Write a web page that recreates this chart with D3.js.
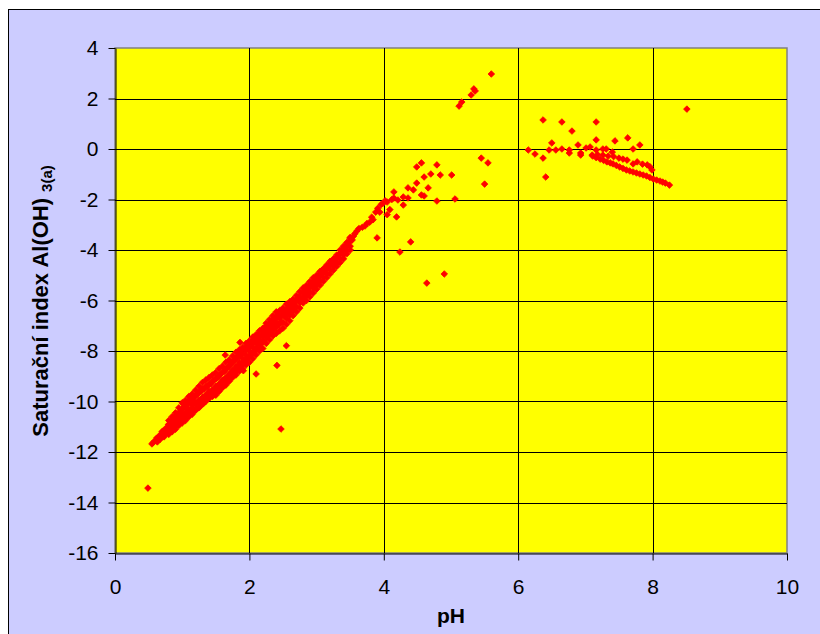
<!DOCTYPE html>
<html lang="cs">
<head>
<meta charset="utf-8">
<title>Saturační index</title>
<script src="https://cdn.jsdelivr.net/npm/d3@7"></script>
<style>
  body { margin: 0; background: #fff; }
  svg { display: block; font-family: Arial, "Liberation Sans", sans-serif; }
</style>
</head>
<body>
<svg width="820" height="634"></svg>
<script>
// pH vs saturation index
var xTicks = [0, 2, 4, 6, 8, 10];
var yTicks = [-16, -14, -12, -10, -8, -6, -4, -2, 0, 2, 4];

// main band (pH, SI)
var bandPts = [
  [0.55,-11.68],[0.57,-11.62],[0.6,-11.55],[0.62,-11.45],[0.63,-11.6],[0.65,-11.4],[0.67,-11.5],[0.68,-11.3],
  [0.7,-11.35],[0.7,-11.2],[0.72,-11.15],[0.73,-11.4],[0.75,-11.1],[0.76,-11.25],[0.78,-11.0],[0.79,-11.2],
  [0.8,-10.9],[0.82,-11.1],[0.83,-10.8],[0.85,-10.95],[0.86,-10.7],[0.88,-10.85],[0.89,-10.6],[0.9,-11.0],
  [0.91,-10.75],[0.93,-10.5],[0.94,-10.9],[0.95,-10.65],[0.97,-10.4],[0.98,-10.8],[1.0,-10.55],[1.0,-10.3],
  [1.02,-10.1],[1.03,-10.7],[1.05,-10.45],[1.06,-10.2],[1.08,-10.6],[1.09,-10.0],[1.1,-10.35],[1.12,-10.5],
  [1.13,-9.9],[1.15,-10.15],[1.16,-10.4],[1.18,-9.8],[1.2,-10.05],[1.21,-10.3],[1.23,-9.7],[1.25,-9.95],
  [1.26,-10.2],[1.28,-9.6],[1.3,-9.85],[1.31,-10.1],[1.33,-9.5],[1.35,-9.75],[1.36,-9.95],[1.38,-9.4],
  [1.4,-9.65],[1.41,-9.85],[1.43,-9.3],[1.45,-9.55],[1.46,-9.75],[1.48,-9.15],[1.5,-9.4],[1.51,-9.65],
  [1.53,-9.05],[1.55,-9.3],[1.56,-9.5],[1.58,-8.9],[1.6,-9.15],[1.61,-9.4],[1.63,-8.8],[1.65,-9.05],
  [1.66,-9.25],[1.68,-8.65],[1.7,-8.9],[1.71,-9.1],[1.73,-8.5],[1.75,-8.75],[1.76,-8.95],[1.78,-8.35],
  [1.8,-8.6],[1.81,-8.8],[1.83,-8.2],[1.85,-8.45],[1.86,-8.65],[1.88,-8.05],[1.9,-8.3],[1.91,-8.5],
  [1.93,-7.9],[1.95,-8.15],[1.96,-8.35],[1.98,-7.8],[2.0,-8.0],[2.01,-8.2],[2.03,-7.65],[2.05,-7.85],
  [2.06,-8.05],[2.08,-7.5],[2.1,-7.7],[2.11,-7.9],[2.13,-7.35],[2.15,-7.55],[2.16,-7.75],[2.18,-7.2],
  [2.2,-7.4],[2.21,-7.6],[2.23,-7.05],[2.25,-7.25],[2.26,-7.45],[2.28,-6.95],[2.3,-7.1],[2.31,-7.3],
  [2.33,-6.8],[2.35,-6.95],[2.36,-7.15],[2.38,-6.7],[2.4,-6.85],[2.41,-7.0],[2.43,-6.55],[2.45,-6.7],
  [2.47,-6.85],[2.5,-6.45],[2.52,-6.6],[2.55,-6.35],[2.57,-6.5],[2.6,-6.25],[2.62,-6.4],[2.65,-6.1],
  [2.67,-6.25],[2.7,-6.0],[2.72,-5.9],[2.75,-5.85],[2.77,-6.0],[2.8,-5.7],[2.83,-5.6],[2.85,-5.75],
  [2.88,-5.5],[2.9,-5.4],[2.93,-5.3],[2.95,-5.45],[2.98,-5.2],[3.0,-5.1],[3.03,-5.2],[3.05,-4.95],
  [3.08,-4.8],[3.1,-4.9],[3.13,-4.7],[3.17,-4.65],[3.2,-4.55],[3.23,-4.5],[3.27,-4.4],[3.3,-4.3],
  [3.33,-4.2],[3.35,-4.15],[3.38,-4.05],[3.4,-3.95],[3.43,-3.9],[3.45,-3.8],[3.48,-3.7],[3.5,-3.55],
  [3.53,-3.6],[3.55,-3.45],[3.57,-3.35],[3.6,-3.25],[3.63,-3.15],[3.68,-3.1],[3.72,-3.05],[3.75,-2.95],
  [3.79,-2.9],[3.82,-2.7],[3.84,-2.8],[3.88,-2.5],[3.91,-2.35],[3.94,-2.5],[3.96,-2.2],[3.99,-2.15],
  [4.02,-2.05],[4.05,-2.1],[4.05,-2.6],[4.09,-2.4],[4.12,-2.0]
];

// upper and lower edge of the band
var bandTopPts = [
  [0.8,-10.75],[0.85,-10.6],[0.9,-10.45],[0.95,-10.25],[1.0,-10.05],[1.05,-9.95],[1.1,-9.8],[1.15,-9.7],
  [1.2,-9.55],[1.25,-9.4],[1.3,-9.25],[1.35,-9.15],[1.4,-9.05],[1.45,-8.95],[1.5,-8.85],[1.55,-8.7],
  [1.6,-8.6],[1.65,-8.45],[1.7,-8.35],[1.75,-8.2],[1.8,-8.05],[1.85,-7.95],[1.9,-7.85],[1.95,-7.7],
  [2.0,-7.6],[2.05,-7.45],[2.1,-7.35],[2.15,-7.2],[2.2,-7.1],[2.25,-6.9],[2.3,-6.75],[2.35,-6.6],
  [2.4,-6.45],[2.45,-6.4],[2.5,-6.3],[2.55,-6.15],[2.6,-6.05],[2.65,-5.95],[2.7,-5.8],[2.75,-5.65],
  [2.8,-5.5],[2.85,-5.4],[2.9,-5.25],[2.95,-5.1],[3.0,-5.0],[3.05,-4.85],[3.1,-4.75],[3.15,-4.6],
  [3.2,-4.45],[3.25,-4.35],[3.3,-4.2],[3.35,-4.0],[3.4,-3.85],[3.45,-3.7],[3.5,-3.5]
];
var bandLowPts = [
  [0.8,-11.3],[0.85,-11.2],[0.9,-11.1],[0.95,-10.95],[1.0,-10.85],[1.05,-10.75],[1.1,-10.6],[1.15,-10.5],
  [1.2,-10.35],[1.25,-10.25],[1.3,-10.1],[1.35,-10.0],[1.4,-9.85],[1.45,-9.8],[1.5,-9.75],[1.55,-9.6],
  [1.6,-9.45],[1.65,-9.35],[1.7,-9.2],[1.75,-9.05],[1.8,-8.95],[1.85,-8.8],[1.9,-8.7],[1.95,-8.55],
  [2.0,-8.45],[2.05,-8.3],[2.1,-8.15],[2.15,-8.0],[2.2,-7.9],[2.25,-7.7],[2.3,-7.55],[2.35,-7.4],
  [2.4,-7.3],[2.45,-7.2],[2.5,-7.1],[2.55,-6.95],[2.6,-6.8],[2.65,-6.6],[2.7,-6.45],[2.75,-6.3],
  [2.8,-6.1],[2.85,-6.0],[2.9,-5.85],[2.95,-5.7],[3.0,-5.55],[3.05,-5.4],[3.1,-5.25],[3.15,-5.1],
  [3.2,-4.95],[3.25,-4.8],[3.3,-4.65],[3.35,-4.5],[3.4,-4.35],[3.45,-4.15],[3.5,-4.0]
];

// inside of the band, where the markers run together
var bandInPts = [
  [0.8,-10.92],[0.8,-11.13],[0.85,-10.78],[0.85,-11.02],[0.9,-10.65],[0.9,-10.9],[0.95,-10.46],[0.95,-10.74],
  [1.0,-10.3],[1.0,-10.6],[1.05,-10.2],[1.05,-10.5],[1.1,-10.05],[1.1,-10.35],[1.15,-9.95],[1.15,-10.25],
  [1.2,-9.8],[1.2,-10.1],[1.25,-9.65],[1.25,-10.0],[1.3,-9.5],[1.3,-9.85],[1.35,-9.4],[1.35,-9.75],
  [1.4,-9.3],[1.4,-9.6],[1.45,-9.2],[1.45,-9.55],[1.5,-9.1],[1.5,-9.5],[1.55,-8.97],[1.55,-9.33],
  [1.6,-8.85],[1.6,-9.2],[1.65,-8.72],[1.65,-9.08],[1.7,-8.6],[1.7,-8.95],[1.75,-8.45],[1.75,-8.8],
  [1.8,-8.32],[1.8,-8.68],[1.85,-8.2],[1.85,-8.55],[1.9,-8.1],[1.9,-8.45],[1.95,-7.95],[1.95,-8.3],
  [2.0,-7.85],[2.0,-8.2],[2.05,-7.7],[2.05,-8.05],[2.1,-7.6],[2.1,-7.9],[2.15,-7.45],[2.15,-7.75],
  [2.2,-7.35],[2.2,-7.65],[2.25,-7.15],[2.25,-7.45],[2.3,-7.0],[2.3,-7.3],[2.35,-6.85],[2.35,-7.15],
  [2.4,-6.7],[2.4,-7.05],[2.45,-6.65],[2.45,-6.95],[2.5,-6.55],[2.5,-6.85],[2.55,-6.4],[2.55,-6.7],
  [2.6,-6.28],[2.6,-6.58],[2.65,-6.15],[2.65,-6.4],[2.7,-6.0],[2.7,-6.25],[2.75,-5.85],[2.75,-6.1],
  [2.8,-5.68],[2.8,-5.92],[2.85,-5.58],[2.85,-5.82],[2.9,-5.43],[2.9,-5.67],[2.95,-5.28],[2.95,-5.52],
  [3.0,-5.17],[3.0,-5.38],[3.05,-5.02],[3.05,-5.23],[3.1,-4.9],[3.1,-5.1],[3.15,-4.75],[3.15,-4.95],
  [3.2,-4.6],[3.2,-4.8],[3.25,-4.48],[3.25,-4.66],[3.3,-4.33],[3.3,-4.52],[3.35,-4.15],[3.35,-4.35],
  [3.4,-4.0],[3.4,-4.2],[3.45,-3.83],[3.45,-4.02],[3.5,-3.65],[3.5,-3.85]
];

// scattered points around the band and between pH 4 and 5.6
var scatterPts = [
  [0.49,-13.43],[2.47,-11.09],[2.55,-7.79],[2.41,-8.57],[2.10,-8.91],[1.91,-8.78],[1.76,-8.91],
  [1.86,-7.66],[1.64,-8.16],[3.90,-3.52],[4.19,-2.69],[4.40,-3.68],[4.24,-4.08],[4.64,-5.31],[4.90,-4.95],
  [4.15,-1.70],[4.15,-1.94],[4.21,-2.02],[4.29,-1.90],[4.29,-2.22],[4.36,-1.54],[4.36,-1.94],[4.44,-1.62],
  [4.49,-1.35],[4.49,-0.71],[4.56,-0.55],[4.56,-1.82],[4.60,-1.86],[4.60,-1.11],[4.66,-1.54],[4.70,-0.99],
  [4.79,-0.63],[4.79,-2.06],[4.84,-1.03],[5.01,-1.03],[5.06,-1.98],
  [5.12,1.70],[5.16,1.86],[5.30,2.14],[5.34,2.38],[5.36,2.30],[5.60,2.97],
  [5.45,-0.36],[5.55,-0.55],[5.50,-1.39]
];

// group at pH 6 - 8.5
var alkPts = [
  [8.51,1.58],[6.37,1.15],[6.65,1.07],[7.16,1.07],[6.80,0.71],[7.63,0.44],[7.44,0.32],[7.16,0.36],
  [6.50,0.24],[6.89,0.16],[7.81,0.16],[6.15,-0.04],[6.25,-0.20],[6.37,-0.36],[6.46,-0.04],[6.56,-0.04],
  [6.65,0.0],[6.76,-0.04],[6.76,-0.16],[6.93,-0.16],[7.01,0.04],[7.07,0.08],[7.16,-0.04],[7.26,0.0],
  [7.31,0.0],[7.40,-0.12],[7.71,0.0],[6.41,-1.11],[6.93,-0.24],
  [7.10,-0.24],[7.18,-0.22],[7.26,-0.24],[7.34,-0.28],[7.42,-0.30],[7.50,-0.36],[7.56,-0.40],[7.62,-0.44],
  [7.71,-0.59],[7.77,-0.51],[7.85,-0.60],[7.92,-0.63],[7.96,-0.70],[7.99,-0.83],
  [7.11,-0.28],[7.16,-0.34],[7.22,-0.40],[7.27,-0.45],[7.32,-0.51],[7.37,-0.55],[7.41,-0.59],[7.46,-0.65],
  [7.51,-0.71],[7.56,-0.77],[7.61,-0.83],[7.66,-0.87],[7.71,-0.91],[7.76,-0.95],[7.81,-0.99],[7.86,-1.03],
  [7.91,-1.07],[7.96,-1.13],[8.01,-1.19],[8.06,-1.23],[8.11,-1.27],[8.15,-1.31],[8.19,-1.35],[8.25,-1.43]
];

var svg = d3.select('svg');
var plotL = 115, plotR = 787, plotT = 48, plotB = 553;

var x = d3.scaleLinear().domain([0, 10]).range([plotL, plotR]);
var y = d3.scaleLinear().domain([-16, 4]).range([plotB, plotT]);

// chart area
svg.append('rect')
    .attr('x', 8.5).attr('y', 9.5)
    .attr('width', 830).attr('height', 640)
    .style('fill', '#ccccff')
    .style('stroke', '#000');

// plot area
svg.append('rect')
    .attr('x', plotL).attr('y', plotT)
    .attr('width', plotR - plotL).attr('height', plotB - plotT)
    .style('fill', '#ffff00')
    .style('stroke', '#808080')
    .style('stroke-width', 1.5);

// grid
svg.append('g').selectAll('line.vgrid')
    .data(xTicks.slice(1, -1))
    .enter().append('line')
    .attr('class', 'vgrid')
    .attr('x1', d => Math.round(x(d)) + 0.5).attr('x2', d => Math.round(x(d)) + 0.5)
    .attr('y1', plotT).attr('y2', plotB)
    .style('stroke', '#000');

svg.append('g').selectAll('line.hgrid')
    .data(yTicks.slice(1, -1))
    .enter().append('line')
    .attr('class', 'hgrid')
    .attr('x1', plotL).attr('x2', plotR)
    .attr('y1', d => Math.round(y(d)) + 0.5).attr('y2', d => Math.round(y(d)) + 0.5)
    .style('stroke', '#000');

// axes
var fmt = d => String(d);
var yAxis = svg.append('g')
    .attr('transform', 'translate(' + (plotL + 0.5) + ',0)')
    .call(d3.axisLeft(y).tickValues(yTicks).tickFormat(fmt).tickSize(7).tickPadding(10).tickSizeOuter(0));
var xAxis = svg.append('g')
    .attr('transform', 'translate(0,' + (plotB + 0.5) + ')')
    .call(d3.axisBottom(x).tickValues(xTicks).tickFormat(fmt).tickSize(7).tickPadding(19).tickSizeOuter(0));

[xAxis, yAxis].forEach(function(a) {
    a.select('.domain').style('stroke', '#000');
    a.selectAll('.tick line').style('stroke', '#000');
    a.selectAll('.tick text')
        .style('font-size', '21px')
        .style('font-family', 'Arial, "Liberation Sans", sans-serif')
        .style('fill', '#000');
});

// points
var diamond = 'M0,-3.3L3.3,0L0,3.3L-3.3,0Z';
var allPts = bandPts.concat(bandTopPts, bandLowPts, bandInPts, scatterPts, alkPts);
svg.append('g').selectAll('path.pt')
    .data(allPts)
    .enter().append('path')
    .attr('class', 'pt')
    .attr('d', diamond)
    .attr('transform', d => 'translate(' + x(d[0]) + ',' + y(d[1]) + ')')
    .style('fill', '#ff0000')
    .style('stroke', '#ff0000')
    .style('stroke-width', 0.8);

// axis titles
svg.append('text')
    .attr('x', (plotL + plotR) / 2).attr('y', 623)
    .attr('text-anchor', 'middle')
    .style('font-size', '21px')
    .style('font-weight', 'bold')
    .text('pH');

var yt = svg.append('text')
    .attr('transform', 'translate(48,' + 301 + ') rotate(-90)')
    .attr('text-anchor', 'middle')
    .style('font-size', '22px')
    .style('font-weight', 'bold');
yt.append('tspan').text('Saturační index Al(OH)');
yt.append('tspan').attr('dx', 6).attr('dy', 4).style('font-size', '15px').text('3(a)');
</script>
</body>
</html>
